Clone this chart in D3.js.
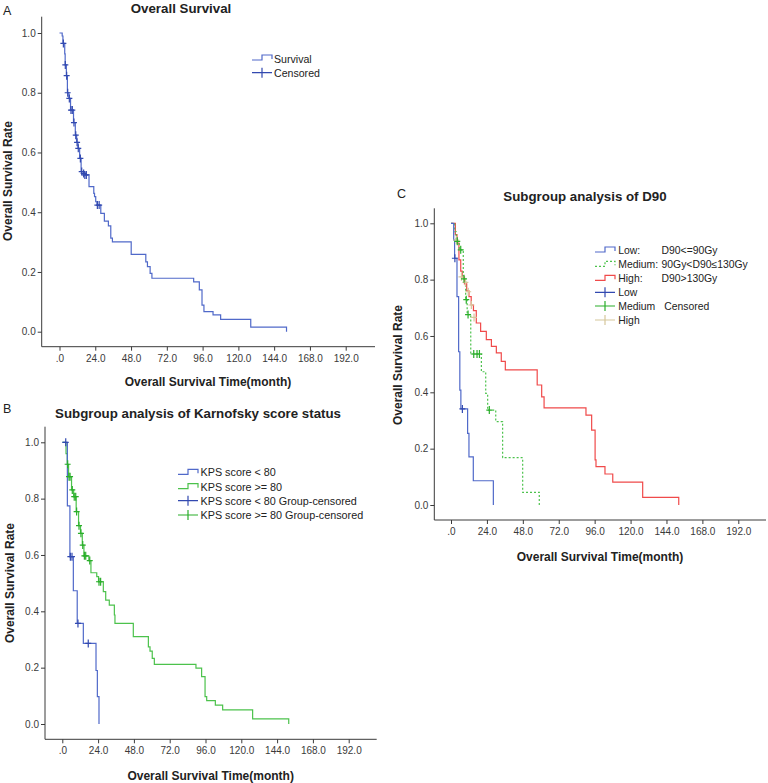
<!DOCTYPE html>
<html>
<head>
<meta charset="utf-8">
<script src="https://cdnjs.cloudflare.com/ajax/libs/d3/7.8.5/d3.min.js"></script>
<style>
body { margin: 0; background: #fff; }
svg { display: block; font-family: "Liberation Sans", Arial, sans-serif; }
</style>
</head>
<body>
<svg id="canvas"></svg>
<script>
// tick values / labels
const xTicks = [0, 24, 48, 72, 96, 120, 144, 168, 192];
const xTickLabels = ['.0', '24.0', '48.0', '72.0', '96.0', '120.0', '144.0', '168.0', '192.0'];
const yTicks = [0, 0.2, 0.4, 0.6, 0.8, 1.0];
const yTickLabels = ['0.0', '0.2', '0.4', '0.6', '0.8', '1.0'];

// [month, survival] - survival drops to value at that month
const overallSteps = [[0,1],[1.8,0.99],[2.3,0.965],[3.5,0.93],[3.8,0.893],[4.6,0.857],[5.3,0.80],[6.3,0.781],[7.4,0.742],
  [9.4,0.70],[10.6,0.658],[11.5,0.634],[12.4,0.614],[13.5,0.58],[14.5,0.536],[16.5,0.53],[17.5,0.525],[19.8,0.486],
  [23,0.463],[23.5,0.452],[24.3,0.435],[25.2,0.424],[27.7,0.396],[30.1,0.37],[32.8,0.354],[34.4,0.313],[35.5,0.301],
  [48.1,0.259],[57.9,0.234],[59,0.218],[60.8,0.195],[62,0.179],[90,0.167],[93.8,0.14],[95.6,0.089],[96.9,0.067],
  [103,0.056],[108.1,0.041],[128.3,0.015],[152.3,0]];
const overallCensored = [[2.6,0.965],[3.9,0.893],[4.8,0.857],[5.5,0.80],[6.6,0.781],[7.7,0.742],[8.6,0.742],[9.7,0.70],
  [10.9,0.658],[11.8,0.634],[12.6,0.614],[14,0.58],[14.9,0.536],[16.2,0.53],[17,0.525],[18,0.525],[25.4,0.424],[26.6,0.424]];

const kpsLowSteps = [[0,1],[3.4,0.774],[5.1,0.594],[7.4,0.473],[10,0.357],[14.1,0.286],[22.6,0.19],[23.5,0.097],[24.6,0]];
const kpsLowCensored = [[2.3,1.0],[5.4,0.594],[6.5,0.594],[10.5,0.357],[17.4,0.286]];
const kpsHighSteps = [[0,1],[2.5,0.96],[3.3,0.922],[4.2,0.878],[6.2,0.831],[7.6,0.807],[9.3,0.754],[10.9,0.704],
  [12.2,0.677],[13.4,0.635],[14.5,0.597],[17.8,0.58],[19.2,0.537],[23.1,0.523],[24.3,0.505],[27.5,0.47],[29.1,0.44],
  [31.5,0.422],[34.9,0.387],[35.3,0.357],[47.6,0.31],[57.7,0.274],[58.8,0.259],[60.3,0.233],[61.7,0.212],[89.6,0.198],
  [93.4,0.168],[95.7,0.097],[96.8,0.083],[102.6,0.067],[107.5,0.05],[127.6,0.018],[151.8,0]];
const kpsHighCensored = [[3.6,0.922],[4.5,0.878],[5.2,0.878],[6.7,0.831],[8.0,0.807],[9.0,0.807],[9.6,0.754],[11.2,0.704],
  [12.5,0.677],[13.7,0.635],[14.8,0.597],[15.7,0.597],[18.4,0.58],[24.6,0.505],[25.7,0.505]];

const d90LowSteps = [[0,1],[1.8,0.94],[2.4,0.876],[4.0,0.74],[5.1,0.544],[5.9,0.408],[6.6,0.341],[11.1,0.254],[12,0.171],
  [14.9,0.086],[28.3,0]];
const d90LowCensored = [[2.6,0.876],[7.6,0.341]];
const d90MedSteps = [[0,1],[2.5,0.97],[3.5,0.936],[5.5,0.906],[8.2,0.803],[9.8,0.729],[10.8,0.676],[13.2,0.536],
  [20.3,0.473],[23.2,0.396],[24.5,0.337],[29.9,0.296],[34.5,0.168],[47.9,0.045],[59,0]];
const d90MedCensored = [[4.2,0.936],[6.5,0.906],[8.7,0.803],[10.2,0.729],[11.4,0.676],[15.2,0.536],[17.4,0.536],
  [19,0.536],[25.6,0.337]];
const d90HighSteps = [[0,1],[2.9,0.96],[4.0,0.93],[5.3,0.87],[6.5,0.83],[7.5,0.81],[9,0.785],[10.5,0.76],[12,0.74],
  [13.5,0.71],[15,0.69],[16.9,0.646],[19.8,0.616],[23.6,0.587],[27,0.563],[30.3,0.54],[33.6,0.51],[36.3,0.48],
  [57.6,0.426],[60.6,0.384],[62.2,0.345],[90.2,0.319],[94,0.266],[96.3,0.16],[96.9,0.136],[102.9,0.11],[108.1,0.081],
  [128.1,0.027],[152.2,0]];
const d90HighCensored = [[3.5,0.94],[7,0.81],[9.6,0.79],[11.5,0.757],[13.6,0.71],[15.4,0.666]];

const legendA = ['Survival', 'Censored'];
const legendB = ['KPS score < 80', 'KPS score >= 80', 'KPS score < 80 Group-censored', 'KPS score >= 80 Group-censored'];
const legendC = ['Low:', 'Medium:', 'High:', 'Low', 'Medium', 'High'];
const legendCRange = ['D90<=90Gy', '90Gy<D90\u2264130Gy', 'D90>130Gy'];

const blue = '#5069c9';
const blueDark = '#3249b0';
const green = '#4cc24c';
const greenDark = '#2aae2a';
const red = '#f04a4a';
const tan = '#d6c79c';

const width = 768;
const height = 783;

let canvas = d3.select('#canvas');

const panels = {
    A: { x0: 59.5, x192: 345.7, y0: 331.7, y1: 33, left: 41.7, top: 16.7, bottom: 346.7, right: 375 },
    B: { x0: 62.3, x192: 348.7, y0: 724, y1: 442.3, left: 45, top: 426.7, bottom: 739.3, right: 376.7 },
    C: { x0: 451, x192: 738.3, y0: 505, y1: 223.3, left: 434.3, top: 208.3, bottom: 520, right: 766 }
};

const drawCanvas = () => {
    canvas.attr('width', width).attr('height', height);
    canvas.append('rect').attr('width', width).attr('height', height).attr('fill', '#fff');
}

const makeScales = (p) => ({
    x: d3.scaleLinear().domain([0, 192]).range([p.x0, p.x192]),
    y: d3.scaleLinear().domain([0, 1]).range([p.y0, p.y1])
})

const drawAxes = (p, sc) => {
    let xAxis = d3.axisBottom(sc.x)
                    .tickValues(xTicks)
                    .tickFormat((d, i) => xTickLabels[i])
                    .tickSize(4)
                    .tickPadding(4)
    canvas.append('g')
            .call(xAxis)
            .attr('transform', 'translate(0, ' + p.bottom + ')')
            .attr('font-size', 10)
            .attr('font-family', '"Liberation Sans", Arial, sans-serif')
            .attr('color', '#3a3a3a')
            .call(g => g.select('.domain').remove())

    let yAxis = d3.axisLeft(sc.y)
                    .tickValues(yTicks)
                    .tickFormat((d, i) => yTickLabels[i])
                    .tickSize(4)
                    .tickPadding(2)
    canvas.append('g')
            .call(yAxis)
            .attr('transform', 'translate(' + p.left + ', 0)')
            .attr('font-size', 10)
            .attr('font-family', '"Liberation Sans", Arial, sans-serif')
            .attr('color', '#3a3a3a')
            .call(g => g.select('.domain').remove())

    canvas.append('path')
            .attr('d', `M${p.left},${p.top}V${p.bottom}H${p.right}`)
            .attr('fill', 'none')
            .attr('stroke', '#3a3a3a')
            .attr('stroke-width', 1)
}

const drawCurve = (sc, steps, color, dash) => {
    let line = d3.line()
                .x(d => sc.x(d[0]))
                .y(d => sc.y(d[1]))
                .curve(d3.curveStepAfter)
    canvas.append('path')
            .datum(steps)
            .attr('d', line)
            .attr('fill', 'none')
            .attr('stroke', color)
            .attr('stroke-width', 1.2)
            .attr('stroke-dasharray', dash || null)
}

const drawCensored = (sc, pts, color) => {
    canvas.append('g')
            .selectAll('path')
            .data(pts)
            .enter()
            .append('path')
            .attr('d', d => {
                let x = sc.x(d[0]), y = sc.y(d[1]);
                return `M${x},${y - 4}V${y + 4}M${x - 3},${y}H${x + 3}`
            })
            .attr('stroke', color)
            .attr('stroke-width', 1.2)
            .attr('fill', 'none')
}

const addText = (txt, x, y, opts = {}) => {
    let t = canvas.append('text')
            .text(txt)
            .attr('x', x)
            .attr('y', y)
            .attr('font-size', opts.size || 10)
            .attr('font-weight', opts.bold ? 'bold' : 'normal')
            .attr('fill', opts.fill || '#222')
            .attr('text-anchor', opts.anchor || 'start')
    if (opts.rotate) t.attr('transform', `rotate(-90, ${x}, ${y})`)
    return t
}

const legendSymbol = (x, y, kind, color, dash) => {
    if (kind === 'line') {
        canvas.append('path')
                .attr('d', `M${x},${y + 2}H${x + 10}V${y - 3}H${x + 20}V${y + 1}`)
                .attr('fill', 'none')
                .attr('stroke', color)
                .attr('stroke-width', 1.2)
                .attr('stroke-dasharray', dash || null)
    } else {
        canvas.append('path')
                .attr('d', `M${x},${y}H${x + 20}M${x + 10},${y - 5}V${y + 5}`)
                .attr('fill', 'none')
                .attr('stroke', color)
                .attr('stroke-width', 1.2)
    }
}

const drawTitles = (letter, title, titleX, titleY, yTitleX, yTitleY, xTitleX, xTitleY, letterX, letterY) => {
    addText(letter, letterX, letterY, { size: 12.5 })
    addText(title, titleX, titleY, { size: 13.3, bold: true, anchor: 'middle' })
    addText('Overall Survival Rate', yTitleX, yTitleY, { size: 12, bold: true, anchor: 'middle', rotate: true })
    addText('Overall Survival Time(month)', xTitleX, xTitleY, { size: 12, bold: true, anchor: 'middle' })
}

// panel A
const drawA = () => {
    let p = panels.A, sc = makeScales(p);
    drawAxes(p, sc);
    drawCurve(sc, overallSteps, blue);
    drawCensored(sc, overallCensored, blueDark);
    drawTitles('A', 'Overall Survival', 181, 12.5, 12, 181, 208, 386, 3, 15);
    legendSymbol(252, 58, 'line', blue);
    addText(legendA[0], 274, 62.8, { size: 10.6 });
    legendSymbol(252, 72.7, 'cens', blueDark);
    addText(legendA[1], 274, 76.6, { size: 10.6 });
}

// panel B
const drawB = () => {
    let p = panels.B, sc = makeScales(p);
    drawAxes(p, sc);
    drawCurve(sc, kpsHighSteps, green);
    drawCurve(sc, kpsLowSteps, blue);
    drawCensored(sc, kpsHighCensored, greenDark);
    drawCensored(sc, kpsLowCensored, blueDark);
    drawTitles('B', 'Subgroup analysis of  Karnofsky score status', 198, 417.5, 13.5, 583, 210.7, 779.5, 3, 413);
    let rows = [472.3, 486.7, 500.7, 515];
    let kinds = [['line', blue], ['line', green], ['cens', blueDark], ['cens', greenDark]];
    rows.forEach((y, i) => {
        legendSymbol(178, y, kinds[i][0], kinds[i][1]);
        addText(legendB[i], 200.5, y + 3.8, { size: 10.8 });
    })
}

// panel C
const drawC = () => {
    let p = panels.C, sc = makeScales(p);
    drawAxes(p, sc);
    drawCurve(sc, d90HighSteps, red);
    drawCurve(sc, d90MedSteps, green, '2,2');
    drawCurve(sc, d90LowSteps, blue);
    drawCensored(sc, d90HighCensored, tan);
    drawCensored(sc, d90MedCensored, greenDark);
    drawCensored(sc, d90LowCensored, blueDark);
    drawTitles('C', 'Subgroup analysis of D90', 585, 200.5, 401.5, 365, 600, 560.5, 397, 198);
    let rows = [250, 264.3, 278.3, 292.3, 306, 320];
    let kinds = [['line', blue], ['line', green, '2,2'], ['line', red], ['cens', blueDark], ['cens', greenDark], ['cens', tan]];
    rows.forEach((y, i) => {
        legendSymbol(595, y, kinds[i][0], kinds[i][1], kinds[i][2]);
        addText(legendC[i], 618.3, y + 3.7, { size: 10.4 });
    })
    legendCRange.forEach((txt, i) => {
        addText(txt, 661.5, rows[i] + 3.7, { size: 10.4 });
    })
    addText('Censored', 664.3, 306 + 4, { size: 10.4 });
}

drawCanvas();
drawA();
drawB();
drawC();
</script>
</body>
</html>
